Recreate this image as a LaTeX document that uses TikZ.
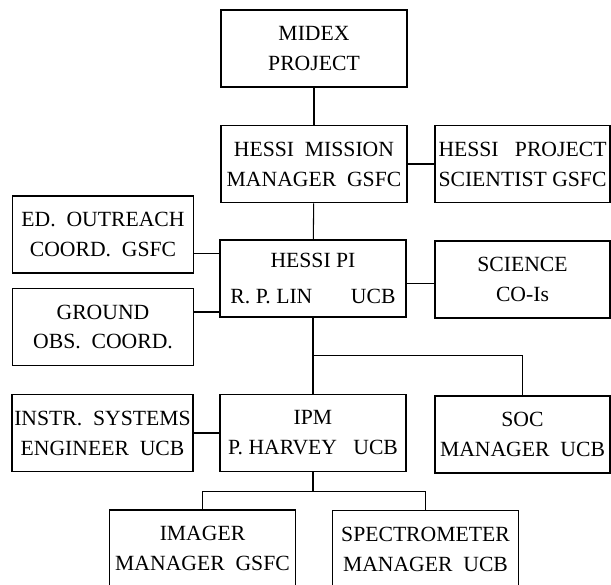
\documentclass[tikz,border=0pt]{standalone}
\usepackage{fontspec}
\setmainfont{Liberation Serif}
\usepackage{tikz}
\usetikzlibrary{positioning,calc}

\begin{document}
\begin{tikzpicture}[x=0.03cm,y=-0.03cm,font=\fontsize{18.5}{25.5}\selectfont]
  \tikzstyle{box}=[draw,line width=1.4pt,align=center,inner sep=0pt,minimum height=2.31cm]
  \tikzstyle{mainbox}=[box,minimum width=5.57cm]
  \tikzstyle{sidebox}=[box,minimum width=5.42cm]
  \tikzstyle{rightbox}=[box,minimum width=5.25cm]
  \tikzstyle{link}=[line width=0.9pt]

  \useasboundingbox (0,0) rectangle (611,585);

  % top column
  \node[mainbox] (midex) at (314,48.5) {MIDEX\\PROJECT};
  \node[mainbox] (mission) at (314,164) {HESSI\ \ MISSION\\MANAGER\ \ GSFC};
  \node[rightbox] (projsci) at (522.5,164) {HESSI\ \ \ PROJECT\\SCIENTIST GSFC};

  % PI level
  \node[sidebox] (outreach) at (103,234.5) {ED.\ \ OUTREACH\\COORD.\ \ GSFC};
  \node[mainbox] (pi) at (313,278.5) {HESSI PI\\[0.3em]\makebox[4.95cm]{R.~P.~LIN\hfill UCB}};
  \node[rightbox] (science) at (522.5,279.5) {SCIENCE\\CO-Is};
  \node[sidebox] (ground) at (103,327) {GROUND\\OBS.\ \ COORD.};

  % IPM level
  \node[sidebox] (instr) at (102.5,433) {INSTR.\ \ SYSTEMS\\ENGINEER\ \ UCB};
  \node[mainbox] (ipm) at (313,433) {IPM\\P.~HARVEY\ \ \ UCB};
  \node[rightbox] (soc) at (522.5,434.5) {SOC\\MANAGER\ \ UCB};

  % instrument managers
  \node[mainbox] (imager) at (202.5,548.5) {IMAGER\\MANAGER\ \ GSFC};
  \node[mainbox] (spectro) at (425.5,549) {SPECTROMETER\\MANAGER\ \ UCB};

  \draw[link] (midex) -- (mission);
  \draw[link] (mission) -- (projsci);
  \draw[link] (mission) -- (pi);
  \draw[link] ([yshift=-0.57cm]outreach.east) -- ([yshift=-0.57cm]outreach.east -| pi.west);
  \draw[link] ([yshift=0.45cm]ground.east) -- ([yshift=0.45cm]ground.east -| pi.west);
  \draw[link] ([yshift=-0.15cm]pi.east) -- ([yshift=-0.15cm]pi.east -| science.west);
  \draw[link] (pi) -- (ipm);
  \draw[link] ($(pi.south)!.5!(ipm.north)$) -| (soc.north);
  \draw[link] (instr) -- (ipm);
  \draw[link] (ipm.south) -- ++(0,19) coordinate (split);
  \draw[link] (imager.north) |- (split) -| (spectro.north);
\end{tikzpicture}
\end{document}
